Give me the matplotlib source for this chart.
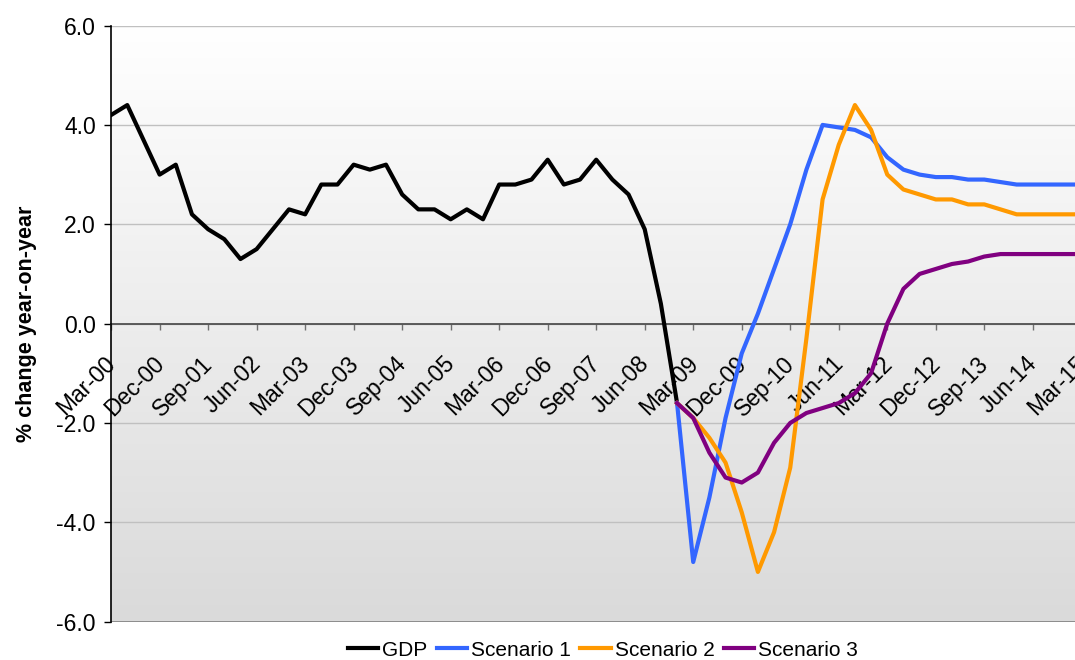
import numpy as np
import matplotlib
matplotlib.use("Agg")
import matplotlib.pyplot as plt
from matplotlib.transforms import ScaledTranslation

plt.rcParams.update({"font.family": ["Liberation Sans", "DejaVu Sans"],
                     "font.size": 16.5, "axes.unicode_minus": False})

# ---------------------------------------------------------------- data
# quarterly, Mar-00 .. Mar-15 (61 quarters); GDP runs to Dec-08, scenarios from Dec-08
gdp = [4.2, 4.4, 3.7, 3.0, 3.2, 2.2, 1.9, 1.7, 1.3, 1.5, 1.9, 2.3,
       2.2, 2.8, 2.8, 3.2, 3.1, 3.2, 2.6, 2.3, 2.3, 2.1, 2.3, 2.1,
       2.8, 2.8, 2.9, 3.3, 2.8, 2.9, 3.3, 2.9, 2.6, 1.9, 0.4, -1.6]
scen1 = [-1.6, -4.8, -3.5, -1.9, -0.6, 0.2, 1.1, 2.0, 3.1, 4.0, 3.95, 3.9, 3.75,
         3.35, 3.1, 3.0, 2.95, 2.95, 2.9, 2.9, 2.85, 2.8, 2.8, 2.8, 2.8, 2.8]
scen2 = [-1.6, -1.9, -2.3, -2.8, -3.8, -5.0, -4.2, -2.9, -0.3, 2.5, 3.6, 4.4, 3.9,
         3.0, 2.7, 2.6, 2.5, 2.5, 2.4, 2.4, 2.3, 2.2, 2.2, 2.2, 2.2, 2.2]
scen3 = [-1.6, -1.9, -2.6, -3.1, -3.2, -3.0, -2.4, -2.0, -1.8, -1.7, -1.6, -1.4, -1.0,
         0.0, 0.7, 1.0, 1.1, 1.2, 1.25, 1.35, 1.4, 1.4, 1.4, 1.4, 1.4, 1.4]
xlabels = ["Mar-00", "Dec-00", "Sep-01", "Jun-02", "Mar-03", "Dec-03", "Sep-04",
           "Jun-05", "Mar-06", "Dec-06", "Sep-07", "Jun-08", "Mar-09", "Dec-09",
           "Sep-10", "Jun-11", "Mar-12", "Dec-12", "Sep-13", "Jun-14", "Mar-15"]
yticks = [-6.0, -4.0, -2.0, 0.0, 2.0, 4.0, 6.0]
n_q = 61
start_scen = len(gdp) - 1

series = [("GDP", gdp, 0, "#000000"),
          ("Scenario 1", scen1, start_scen, "#3366FF"),
          ("Scenario 2", scen2, start_scen, "#FF9900"),
          ("Scenario 3", scen3, start_scen, "#800080")]

# ---------------------------------------------------------------- figure
fig = plt.figure(figsize=(10.75, 6.6), dpi=100)
ax = fig.add_axes([111.1 / 1075, 38.4 / 660, 970.2 / 1075, 596 / 660])

# spine moves first: set_position resets the ticks
for s in ["top", "right"]:
    ax.spines[s].set_visible(False)
ax.spines["bottom"].set_position(("data", 0))
ax.spines["bottom"].set_color("#505050")
ax.spines["bottom"].set_linewidth(1.3)
ax.spines["bottom"].set_zorder(2)
ax.spines["left"].set_color("#000000")
ax.spines["left"].set_linewidth(1.2)

# gradient plot area
grad = np.linspace(0, 1, 256)[:, None]
ax.imshow(grad, extent=[0, 1, 0, 1], transform=ax.transAxes, aspect="auto",
          cmap=matplotlib.colors.LinearSegmentedColormap.from_list("bg", ["#FFFFFF", "#DADADA"]),
          zorder=0)

for y in yticks:
    ax.axhline(y, color="#C0C0C0", lw=1, zorder=1)
ax.axhline(-6, color="#808080", lw=1.2, zorder=1)

for name, vals, x0, col in series:
    ax.plot(np.arange(x0, x0 + len(vals)), vals, color=col, lw=3, label=name,
            solid_joinstyle="round", zorder=3)

ax.set_xlim(0, n_q - 1)
ax.set_ylim(-6, 6)
ax.set_yticks(yticks)
ax.set_yticklabels([f"{v:.1f}" for v in yticks])
ax.set_xticks(np.arange(0, n_q, 3))
ax.set_xticklabels(xlabels)

ax.tick_params(axis="y", direction="out", length=5, width=1, color="#000000", pad=6)
ax.tick_params(axis="x", direction="out", length=4.5, width=1, color="#707070", pad=16)
off = ScaledTranslation(-7 / 100, 0, fig.dpi_scale_trans)
for lab in ax.get_xticklabels():
    lab.set_rotation(45)
    lab.set_rotation_mode("anchor")
    lab.set_ha("right")
    lab.set_va("top")
    lab.set_transform(lab.get_transform() + off)

ax.set_ylabel("% change year-on-year", fontsize=15.5, fontweight="bold")
ax.yaxis.set_label_coords(-0.076, 0.5)

leg = ax.legend(loc="center", bbox_to_anchor=(603 / 1075, 1 - 650 / 660),
                bbox_transform=fig.transFigure, ncol=4, frameon=False,
                handlelength=1.45, handletextpad=0.2, columnspacing=0.45,
                fontsize=15, borderpad=0)

fig.savefig("out.png", dpi=100)
